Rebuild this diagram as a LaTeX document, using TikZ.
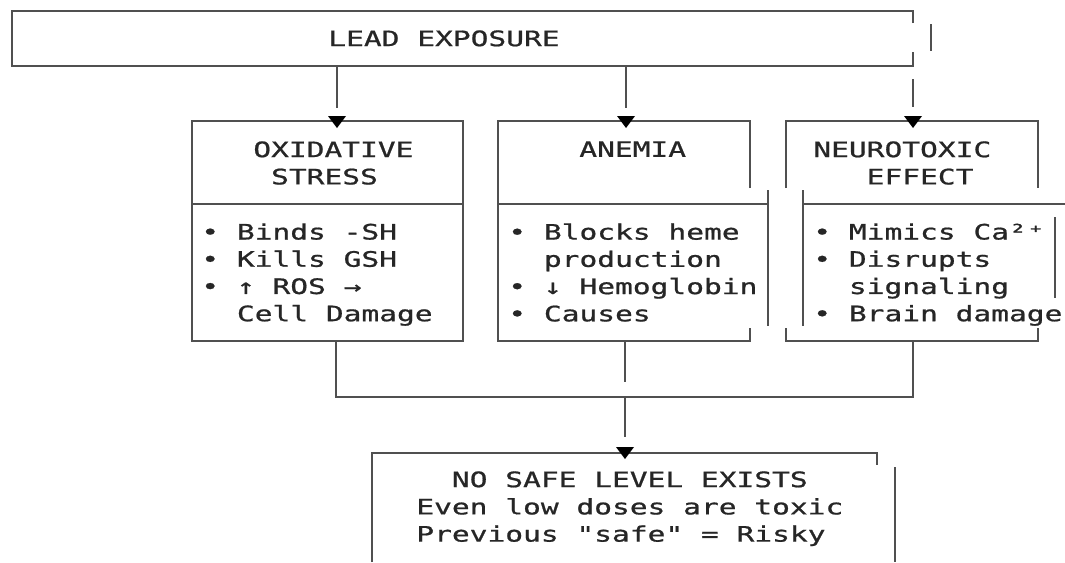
\documentclass[tikz,border=0pt]{standalone}
\usepackage{fontspec}
\newfontfamily\asciifont[FakeStretch=1.39,FakeBold=0.9,WordSpace={1,0,0}]{DejaVu Sans Mono}
\usepackage{tikz}
\usetikzlibrary{calc}
\definecolor{boxgray}{HTML}{505050}
\definecolor{textgray}{HTML}{262626}
\tikzset{
	boxline/.style={line width=1.1pt,color=boxgray},
	asciitext/.style={inner sep=0pt,anchor=north west,align=left,text=textgray,font=\asciifont\fontsize{12.1}{15.5}\selectfont},
	tipdown/.pic={\fill[black] (-9,-6) -- (9,-6) -- (0,6) -- cycle;}
}

\begin{document}
\begin{tikzpicture}[x=0.02cm,y=-0.02cm]
			\useasboundingbox (0,0) rectangle (1065,562);
			\node[asciitext] (lead) at (328,30) {LEAD EXPOSURE};
			\draw [boxline] (913,23) -- (913,11) -- (12,11) -- (12,66) -- (913,66) -- (913,52);
			\draw [boxline] (931,24) -- (931,51);
			\coordinate (leadL) at (337,66);
			\coordinate (leadM) at (626,66);
			\coordinate (leadR) at (913,79);
			\coordinate (oxiin) at (337,108);
			\coordinate (anein) at (626,108);
			\coordinate (neuin) at (913,107);
			\draw [boxline] (leadL) -- (oxiin);
			\draw [boxline] (leadM) -- (anein);
			\draw [boxline] (leadR) -- (neuin);
			\draw [boxline] (192,121) rectangle (463,341);
			\draw [boxline] (192,204) -- (463,204);
			\node[asciitext] (oxi) at (253,141) {OXIDATIVE\\\phantom{X}STRESS};
			\node[asciitext] (oxilist) at (201,223) {• Binds -SH\\• Kills GSH\\• ↑ ROS →\\\phantom{XX}Cell Damage};
			\draw [boxline] (750,188) -- (750,121) -- (498,121) -- (498,341) -- (750,341) -- (750,328);
			\draw [boxline] (498,204) -- (768,204);
			\draw [boxline] (768,190) -- (768,326);
			\node[asciitext] (ane) at (579,141) {ANEMIA};
			\node[asciitext] (anelist) at (508,223) {• Blocks heme\\\phantom{XX}production\\• ↓ Hemoglobin\\• Causes};
			\draw [boxline] (786,188) -- (786,121) -- (1038,121) -- (1038,188);
			\draw [boxline] (786,328) -- (786,341) -- (1038,341) -- (1038,328);
			\draw [boxline] (803,190) -- (803,326);
			\draw [boxline] (803,204) -- (1065,204);
			\draw [boxline] (1055,217) -- (1055,298);
			\node[asciitext] (neu) at (813,141) {NEUROTOXIC\\\phantom{XXX}EFFECT};
			\node[asciitext] (neulist) at (813,223) {• Mimics Ca²⁺\\• Disrupts\\\phantom{XX}signaling\\• Brain damage};
			\pic at (337,122) {tipdown};
			\pic at (626,122) {tipdown};
			\pic at (913,122) {tipdown};
			\coordinate (oxiout) at (336,341);
			\coordinate (aneout) at (625,341);
			\coordinate (neuout) at (913,341);
			\coordinate (joinL) at (336,397);
			\coordinate (joinR) at (913,397);
			\coordinate (aneend) at (625,382);
			\coordinate (joinM) at (625,398);
			\coordinate (safein) at (625,437);
			\draw [boxline] (oxiout) -- (joinL) -- (joinR) -- (neuout);
			\draw [boxline] (aneout) -- (aneend);
			\draw [boxline] (joinM) -- (safein);
			\draw [boxline] (372,562) -- (372,453) -- (877,453) -- (877,465);
			\draw [boxline] (895,467) -- (895,562);
			\pic at (625,453) {tipdown};
			\node[asciitext] (safe) at (416,471) {\phantom{XX}NO SAFE LEVEL EXISTS\\Even low doses are toxic\\Previous "safe" = Risky};
		\end{tikzpicture}
\end{document}
